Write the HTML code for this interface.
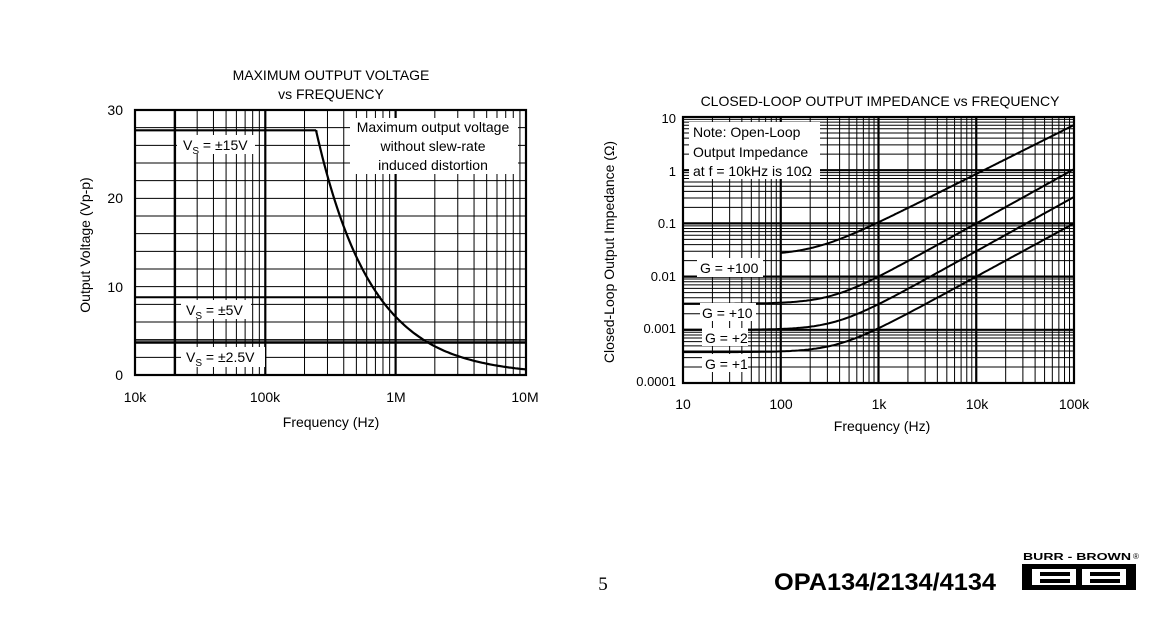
<!DOCTYPE html>
<html><head><meta charset="utf-8"><style>
body{margin:0;background:#fff;}
svg{display:block;font-family:"Liberation Sans",sans-serif;}
</style></head><body>
<svg id="s" width="1164" height="625" viewBox="0 0 1164 625" xmlns="http://www.w3.org/2000/svg">
<g id="g"></g>
<g font-size="14" fill="#000">
<text x="331" y="80" text-anchor="middle">MAXIMUM OUTPUT VOLTAGE</text>
<text x="331" y="99" text-anchor="middle">vs FREQUENCY</text>
<text x="880" y="106" text-anchor="middle">CLOSED-LOOP OUTPUT IMPEDANCE vs FREQUENCY</text>
<g text-anchor="end"><text x="123" y="115">30</text><text x="123" y="203">20</text><text x="123" y="292">10</text><text x="123" y="380">0</text></g>
<g text-anchor="middle"><text x="135" y="402">10k</text><text x="265" y="402">100k</text><text x="396" y="402">1M</text><text x="525" y="402">10M</text>
<text x="331" y="427">Frequency (Hz)</text></g>
<text transform="translate(90,245) rotate(-90)" text-anchor="middle">Output Voltage (Vp-p)</text>
<g text-anchor="end" font-size="13"><text x="676" y="123">10</text><text x="676" y="176">1</text><text x="676" y="228">0.1</text><text x="676" y="281">0.01</text><text x="676" y="333">0.001</text><text x="676" y="386">0.0001</text></g>
<g text-anchor="middle"><text x="683" y="409">10</text><text x="781" y="409">100</text><text x="879" y="409">1k</text><text x="977" y="409">10k</text><text x="1074" y="409">100k</text>
<text x="882" y="431">Frequency (Hz)</text></g>
<text transform="translate(614,252) rotate(-90)" text-anchor="middle">Closed-Loop Output Impedance (Ω)</text>
</g>
<text x="603" y="590" font-family="Liberation Serif,serif" font-size="19" text-anchor="middle">5</text>
<text x="774" y="590" font-size="24" font-weight="bold" textLength="222" lengthAdjust="spacingAndGlyphs">OPA134/2134/4134</text>
<text x="1023" y="560" font-size="10" font-weight="bold" textLength="108" lengthAdjust="spacingAndGlyphs">BURR - BROWN</text>
<text x="1133" y="559" font-size="8">®</text>
<rect x="1022" y="564" width="114" height="26" fill="#000"/>
<rect x="1032" y="569" width="44" height="16" fill="#fff"/><rect x="1082" y="569" width="44" height="16" fill="#fff"/>
<rect x="1040" y="572" width="30" height="4" fill="#000"/><rect x="1040" y="579" width="30" height="4" fill="#000"/>
<rect x="1090" y="572" width="30" height="4" fill="#000"/><rect x="1090" y="579" width="30" height="4" fill="#000"/>
</svg>
<script>
var NS="http://www.w3.org/2000/svg",g=document.getElementById('g');
function el(t,a,txt){var e=document.createElementNS(NS,t);for(var k in a)e.setAttribute(k,a[k]);if(txt!=null)e.textContent=txt;g.appendChild(e);return e;}
function line(x1,y1,x2,y2,w){el('line',{x1:x1,y1:y1,x2:x2,y2:y2,stroke:'#000','stroke-width':w});}
var L0=135,L1=526,T=110,B=375,dec=130.3;
function lx(f){return L0+Math.log10(f/1e4)*dec;}
function ly(v){return B-v*265/30;}
for(var d=0;d<3;d++)for(var m=2;m<=9;m++)line(lx(1e4*Math.pow(10,d)*m),T,lx(1e4*Math.pow(10,d)*m),B,1);
line(175,T,175,B,2.2);line(lx(1e5),T,lx(1e5),B,2.2);line(lx(1e6),T,lx(1e6),B,2.2);
for(var v=2;v<30;v+=2)line(L0,ly(v),L1,ly(v),1);
el('rect',{x:L0,y:T,width:L1-L0,height:B-T,fill:'none',stroke:'#000','stroke-width':2.2});
var fc=2.45e5,V=27.7,p='M'+L0+','+ly(V)+' L'+lx(fc)+','+ly(V);
function vv(f){return V*Math.pow(fc/f,1.02);}
for(var i=0;i<=100;i++){var f=fc*Math.pow(1e7/fc,i/100);p+=' L'+lx(f).toFixed(1)+','+ly(vv(f)).toFixed(1);}
el('path',{d:p,fill:'none',stroke:'#000','stroke-width':2.2});
line(L0,ly(8.8),lx(fc*27.7/8.8),ly(8.8),2);
line(L0,ly(3.65),L1,ly(3.65),2);line(L0,ly(3.85),L1,ly(3.85),1);
function box(x,y,w,h){el('rect',{x:x,y:y,width:w,height:h,fill:'#fff'});}
box(177,135,78,19);box(350,118,168,56);box(181,300,70,19);box(181,347,84,20);
function tx(x,y,s,a){return el('text',{x:x,y:y,'font-size':14,'text-anchor':a||'start'},s);}
function vs(x,y,s){var t=tx(x,y,'V');var a=document.createElementNS(NS,'tspan');a.setAttribute('font-size','10');a.setAttribute('dy','4');a.textContent='S';t.appendChild(a);var b=document.createElementNS(NS,'tspan');b.setAttribute('dy','-4');b.textContent=s;t.appendChild(b);}
vs(183,150,' = ±15V');vs(186,315,' = ±5V');vs(186,362,' = ±2.5V');
tx(433,132,'Maximum output voltage','middle');tx(433,151,'without slew-rate','middle');tx(433,170,'induced distortion','middle');
var R0=683,R1=1074,RT=117,RB=383,xd=97.75,yd=53.2;
function rx(f){return R0+Math.log10(f/10)*xd;}
function ry(z){return RT+(1-Math.log10(z))*yd;}
for(d=0;d<4;d++)for(m=2;m<=9;m++)line(rx(10*Math.pow(10,d)*m),RT,rx(10*Math.pow(10,d)*m),RB,1);
for(d=0;d<5;d++)for(m=2;m<=9;m++)line(R0,ry(1e-4*Math.pow(10,d)*m),R1,ry(1e-4*Math.pow(10,d)*m),1);
for(d=1;d<4;d++)line(rx(10*Math.pow(10,d)),RT,rx(10*Math.pow(10,d)),RB,2.2);
for(d=1;d<5;d++)line(R0,ry(1e-4*Math.pow(10,d)),R1,ry(1e-4*Math.pow(10,d)),2.2);
el('rect',{x:R0,y:RT,width:R1-R0,height:RB-RT,fill:'none',stroke:'#000','stroke-width':2.2});
var cs=[[0.025,0.85,100,0.92],[0.0031,0.1,10,1.02],[0.001,0.03,10,1.02],[0.00038,0.01,10,1]];
cs.forEach(function(c){var p='';for(var i=0;i<=200;i++){var f=c[2]*Math.pow(1e5/c[2],i/200);var hz=c[1]*Math.pow(f/1e4,c[3]);var z=Math.sqrt(c[0]*c[0]+hz*hz);p+=(i?' L':'M')+rx(f).toFixed(1)+','+ry(z).toFixed(1);}el('path',{d:p,fill:'none',stroke:'#000','stroke-width':2});});
box(689,122,131,57);box(697,258,66,19);box(700,303,56,18);box(702,328,46,18);box(702,354,46,18);
tx(693,137,'Note: Open-Loop');tx(693,157,'Output Impedance');tx(693,176,'at f = 10kHz is 10Ω');
tx(700,273,'G = +100');tx(702,318,'G = +10');tx(705,343,'G = +2');tx(705,369,'G = +1');
</script>
</body></html>
